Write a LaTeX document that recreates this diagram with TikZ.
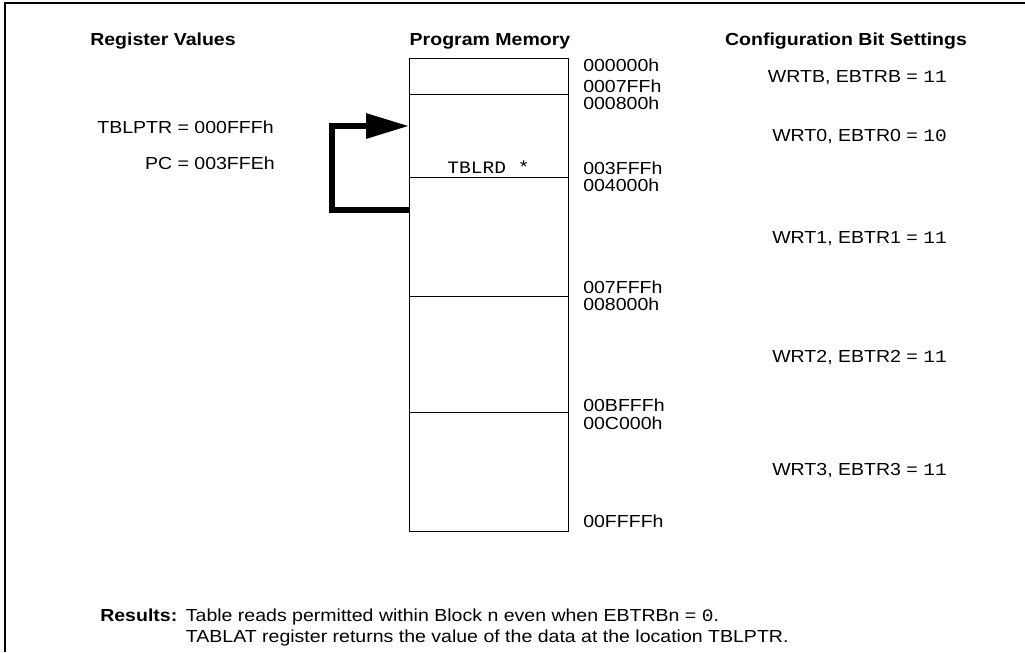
\documentclass[tikz,border=0pt]{standalone}
\usepackage{fontspec}
\setmainfont{Liberation Sans}[FakeStretch=1.12]
\setmonofont{Liberation Mono}[FakeStretch=1.12]
\usepackage{tikz}
\usetikzlibrary{positioning, arrows.meta}

\begin{document}
\begin{tikzpicture}[
    txt/.style={inner sep=0pt, text height=8.9pt, text depth=0pt, font=\fontsize{12.4}{14}\selectfont},
    hdr/.style={txt, font=\fontsize{12.4}{14}\selectfont\bfseries},
    addr/.style={txt, anchor=west},
    cfg/.style={txt, anchor=east},
    memblk/.style={draw, line width=0.6pt, minimum width=3.975cm, inner sep=0pt, outer sep=0pt},
    ptrarrow/.style={line width=4.4pt, line join=miter, -{Triangle[length=1.075cm, width=0.6cm]}}
]
\useasboundingbox (0,0) rectangle (25.625,-16.3);
\draw[line width=0.8pt] (0.125,-16.3) -- (0.125,-0.075) -- (25.625,-0.075);

\node[hdr] (reghdr) at (4.075,-0.975) {Register Values};
\node[hdr] (memhdr) at (12.25,-0.975) {Program Memory};
\node[hdr] (cfghdr) at (21.15,-0.975) {Configuration Bit Settings};

% program memory blocks
\node[memblk, minimum height=0.9cm, anchor=north west] (blkB) at (10.225,-1.45) {};
\node[memblk, minimum height=2.075cm, below=0pt of blkB] (blk0) {};
\node[memblk, minimum height=2.975cm, below=0pt of blk0] (blk1) {};
\node[memblk, minimum height=2.9cm, below=0pt of blk1] (blk2) {};
\node[memblk, minimum height=2.975cm, below=0pt of blk2] (blk3) {};
\node[txt, font=\fontsize{12.4}{14}\selectfont\ttfamily, above=0.075cm of blk0.south] (tblrd) {TBLRD *};

\node[addr] (a0) at (14.575,-1.625) {000000h};
\node[addr] (a1) at (14.575,-2.15) {0007FFh};
\node[addr] (a2) at (14.575,-2.575) {000800h};
\node[addr] (a3) at (14.575,-4.2) {003FFFh};
\node[addr] (a4) at (14.575,-4.625) {004000h};
\node[addr] (a5) at (14.575,-7.175) {007FFFh};
\node[addr] (a6) at (14.575,-7.6) {008000h};
\node[addr] (a7) at (14.575,-10.125) {00BFFFh};
\node[addr] (a8) at (14.575,-10.575) {00C000h};
\node[addr] (a9) at (14.575,-13.025) {00FFFFh};

% register values
\node[cfg] (tblptr) at (6.85,-3.175) {TBLPTR = 000FFFh};
\node[cfg] (pc) at (6.875,-4.075) {PC = 003FFEh};

% configuration bits
\node[cfg] (cfgB) at (23.675,-1.9) {WRTB, EBTRB = \texttt{11}};
\node[cfg] (cfg0) at (23.675,-3.375) {WRT0, EBTR0 = \texttt{10}};
\node[cfg] (cfg1) at (23.675,-5.925) {WRT1, EBTR1 = \texttt{11}};
\node[cfg] (cfg2) at (23.675,-8.9) {WRT2, EBTR2 = \texttt{11}};
\node[cfg] (cfg3) at (23.675,-11.725) {WRT3, EBTR3 = \texttt{11}};

\draw[ptrarrow] ([yshift=-0.825cm]blk1.north west) -- ++(-1.925,0) |- ([yshift=-0.8cm]blk0.north west);

\node[addr, font=\fontsize{12.4}{14}\selectfont\bfseries] (reslbl) at (2.5,-15.375) {Results:};
\node[addr, right=0.2cm of reslbl] (res1) {Table reads permitted within Block n even when EBTRBn = \texttt{0}.};
\node[addr] (res2) at ([yshift=-0.525cm]res1.west) {TABLAT register returns the value of the data at the location TBLPTR.};
\end{tikzpicture}
\end{document}
